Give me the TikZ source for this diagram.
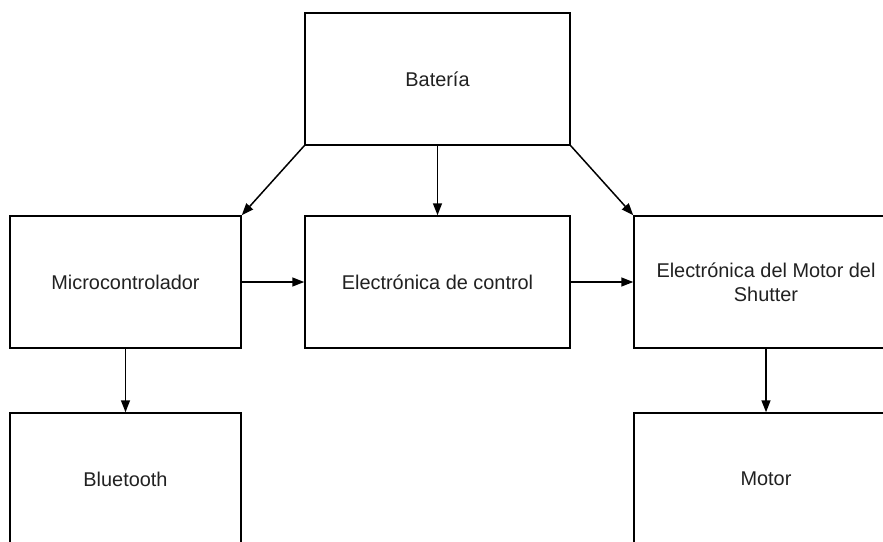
\documentclass[tikz,border=0pt]{standalone}
\usepackage{fontspec}
\setmainfont{Liberation Sans}
\usetikzlibrary{arrows.meta}
\begin{document}
\begin{tikzpicture}[x=1pt,y=-1pt,
  block/.style={draw=black, line width=1.5pt, fill=white, rectangle,
    inner sep=0pt, align=center, text=black!87,
    font=\fontsize{19.9}{24}\selectfont},
  arr/.style={line width=1.5pt, -{Triangle[length=12pt,width=9pt]}}]
  \useasboundingbox (0,0) rectangle (883,541);
  \clip (0,0) rectangle (883,541);
  % blocks
  \node[block, minimum width=265pt, minimum height=132pt] (bat) at (437.5,79) {Batería};
  \node[block, minimum width=231pt, minimum height=132pt] (mic) at (125.5,282) {Microcontrolador};
  \node[block, minimum width=265pt, minimum height=132pt] (ctl) at (437.5,282) {Electrónica de control};
  \node[block, minimum width=264pt, minimum height=132pt] (shu) at (766,282) {Electrónica del Motor del\\Shutter};
  \node[block, minimum width=231pt, minimum height=132pt] (blu) at (125.5,479) {Bluetooth};
  \node[block, minimum width=264pt, minimum height=132pt] (mot) at (766,479) {Motor};
  % connectors
  \draw[arr] (bat.south west) -- (mic.north east);
  \draw[arr] (bat.south) -- (ctl.north);
  \draw[arr] (bat.south east) -- (shu.north west);
  \draw[arr] (mic.east) -- (ctl.west);
  \draw[arr] (ctl.east) -- (shu.west);
  \draw[arr] (mic.south) -- (blu.north);
  \draw[arr] (shu.south) -- (mot.north);
\end{tikzpicture}
\end{document}
